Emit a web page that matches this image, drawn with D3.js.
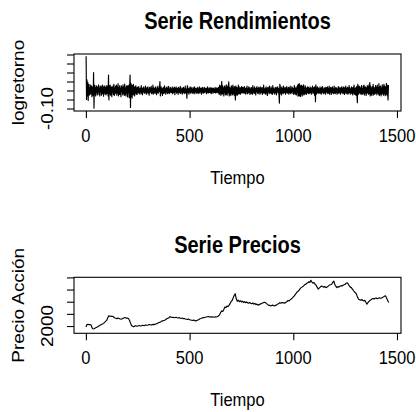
<!DOCTYPE html>
<html>
<head>
<meta charset="utf-8">
<script src="https://cdn.jsdelivr.net/npm/d3@7"></script>
<style>
  body { margin: 0; background: #fff; }
  svg { display: block; }
  text { font-family: "Liberation Sans", Arial, Helvetica, sans-serif; fill: #000; }
</style>
</head>
<body>
<svg id="chart" width="416" height="412"></svg>
<script>
// Daily log returns, in thousandths, sampled every 2 days starting at day 1
const retornoStart = 1;
const retornoStep = 2;
const logRetornoMil = [
  190,-50,60,-30,45,-55,20,35,-25,15,-20,30,-15,25,-35,10,20,-28,100,-98,
  30,-20,15,-30,28,-12,22,-25,18,-10,32,-22,14,-30,25,-8,20,-26,12,30,
  -18,24,-32,16,-14,26,-20,18,-24,10,28,-16,22,-30,86,-52,24,-18,30,-26,
  12,20,-34,18,-10,26,-22,34,-28,14,-18,24,-12,30,-26,20,-15,38,-30,16,
  -22,28,-20,12,-34,26,-8,18,-24,32,-16,20,-28,36,-22,14,-30,24,-18,28,
  -36,22,-14,30,-40,25,86,-94,40,-35,30,-42,28,-20,35,-25,18,-30,22,-15,
  26,-20,14,-22,18,
  18,-12,22,-15,9,-21,14,-8,27,-18,11,-24,15,-6,20,-14,8,-17,24,-11,
  12,-20,17,-9,21,-15,6,-26,18,-12,14,-8,23,-18,9,-14,30,-21,15,-9,
  11,-17,20,-12,8,-23,17,-11,24,-15,12,-6,18,50,-30,-9,21,-14,9,-27,
  14,-18,18,-15,26,-12,9,-21,15,-8,20,-17,12,-11,23,-18,6,-14,17,-9,
  15,-11,8,-18,21,-14,11,-9,17,-23,12,-6,20,-15,9,-12,14,-20,18,-8,
  11,-14,23,-17,6,-9,15,-21,12,-11,18,-14,8,-17,24,-12,9,-8,-43,27,
  17,-12,9,-20,14,-8,21,-15,11,-9,18,-14,6,-17,15,-11,20,-18,12,-6,
  14,-15,9,-11,17,-18,8,-12,21,-14,11,-8,15,-20,12,-9,18,-15,8,-14,
  17,-11,9,-6,14,-18,12,-9,20,-15,8,-12,15,-11,9,-14,18,-17,11,-8,
  12,-15,14,-9,8,-11,17,-14,9,-12,15,-8,11,-14,18,
  18,-22,30,-15,25,-28,12,50,-20,26,-18,14,-30,22,-12,28,-24,16,-20,32,
  -26,20,-14,24,48,-30,18,-22,12,-28,26,-16,20,-24,30,-18,14,-26,22,-12,
  -53,24,-20,18,-28,14,-22,30,-16,20,-18,12,-20,16,-14,22,-10,18,-15,10,
  17,-13,22,-15,10,-20,14,-8,25,-18,11,-14,21,-10,15,-22,8,-13,18,-17,
  13,-21,28,-11,8,-17,20,-14,10,-25,15,-7,22,-13,11,-18,17,-8,14,-20,
  21,-14,11,-10,18,-22,13,-15,30,-11,8,-17,14,-21,20,-13,10,-28,17,-8,
  15,-18,24,-13,7,-14,20,-17,11,-22,27,-10,14,-15,8,-20,18,-11,13,-24,
  17,-8,21,-14,11,-28,-70,35,22,-17,14,-25,20,-13,10,-18,25,-14,15,-11,
  13,-20,17,-10,22,-15,8,-13,18,-21,14,-11,24,-17,7,-14,20,-8,15,-18,
  11,-22,28,-13,17,-20,10,-25,21,-14,30,-32,35,-28,38,-30,25,-33,30,-21,
  28,-30,22,-17,32,-25,14,-20,27,-15,18,-22,11,-14,21,-13,17,-18,10,-15,
  20,-11,14,-21,15,-8,24,-17,13,-14,18,-28,22,-62,32,-20,13,-15,21,-10,
  14,-17,8,-13,20,-15,11,-21,17,-10,22,-14,7,-18,15,-11,13,-20,18,-8,
  15,-13,21,-17,10,-14,25,-20,13,-8,17,-22,14,-11,20,-15,8,-18,24,-13,
  11,-17,18,-10,14,-21,8,-13,22,-15,17,-11,13,-20,15,-14,21,-8,10,-18,
  20,-13,14,-22,17,-10,25,-17,11,-14,18,-21,13,-15,28,-11,15,-20,8,-14,
  21,-17,13,-25,18,-14,30,-20,11,-22,15,-28,22,-30,-68,35,17,-21,25,-14,
  20,-15,13,-22,28,-17,11,-20,24,-13,30,-25,17,-14,21,-28,14,-18,27,-11,
  22,-20,32,-17,44,-30,25,-22,14,-28,20,-15,35,-25,17,-21,13,-18,28,-14,
  18,-24,30,-13,15,-20,38,-28,21,-17,25,-30,14,-22,32,-15,20,-26,35,-18,
  24,-29,17,-21,40,-25,30,-17,-53,30
];

// Share price, sampled every 5 days starting at day 0
const precioStart = 0;
const precioStep = 5;
const precio = [
  1960,2060,2070,2050,2060,2040,1920,1880,1890,1920,1940,1960,1990,2010,2040,2060,2080,2110,2150,2190,
  2230,2330,2420,2400,2410,2390,2400,2360,2330,2320,2300,2330,2310,2290,2280,2300,2320,2340,2350,2320,
  2330,2310,2240,2120,2020,1990,1970,2000,2010,1990,2000,2020,2010,2000,2020,2030,2010,2030,2040,2030,
  2040,2060,2050,2040,2060,2070,2060,2080,2090,2110,2140,2150,2170,2200,2210,2230,2240,2270,2300,2320,
  2340,2380,2370,2350,2360,2340,2350,2360,2340,2330,2350,2320,2310,2330,2300,2310,2290,2280,2270,2290,
  2260,2250,2240,2230,2250,2220,2210,2230,2250,2270,2300,2310,2330,2350,2340,2360,2370,2380,2390,2370,
  2380,2360,2380,2370,2360,2380,2370,2390,2420,2470,2560,2620,2600,2680,2780,2760,2820,2800,2850,2920,
  3010,3050,3150,3260,3330,3120,3020,3060,3000,3040,2990,3020,2970,3000,2960,2990,2950,2940,2970,2930,
  2920,2950,2900,2930,2880,2900,2860,2880,2900,2920,2940,2960,2980,2970,2930,2890,2860,2850,2830,2840,
  2860,2840,2830,2850,2870,2900,2930,2960,2940,2970,2950,2960,2940,2980,3010,3050,3030,3080,3110,3150,
  3200,3240,3300,3360,3410,3440,3500,3560,3590,3620,3650,3700,3720,3760,3780,3820,3790,3880,3810,3760,
  3790,3720,3680,3600,3520,3560,3600,3640,3630,3600,3620,3600,3580,3620,3650,3690,3700,3720,3800,3850,
  3720,3640,3580,3620,3600,3640,3660,3650,3680,3700,3720,3760,3780,3720,3650,3600,3580,3520,3460,3400,
  3370,3300,3180,3100,3080,3060,3090,3050,3030,3060,2980,2900,2960,3010,3060,3080,3120,3130,3110,3140,
  3150,3120,3140,3160,3140,3150,3170,3200,3230,3240,3150,3050,2970
];

const xTicks = [0, 500, 1000, 1500];
const retornoTicks = [-0.10, -0.05, 0, 0.05, 0.10, 0.15, 0.20];
const retornoTickLabels = ["-0.10", "", "", "", "", "", ""];
const precioTicks = [2000, 2500, 3000, 3500, 4000];
const precioTickLabels = ["2000", "", "", "", ""];

const svg = d3.select("#chart");
const FONT = 16.5;
const STRETCH = 1.15;   // glyphs are drawn a little taller than wide

function hText(g, x, y, str, size, bold) {
  return g.append("text")
    .attr("transform", `translate(${x},${y}) scale(1,${STRETCH})`)
    .attr("text-anchor", "middle")
    .attr("font-size", size)
    .attr("font-weight", bold ? "bold" : null)
    .text(str);
}
function vText(g, x, y, str, size) {
  return g.append("text")
    .attr("transform", `translate(${x},${y}) rotate(-90) scale(${STRETCH},1)`)
    .attr("text-anchor", "middle")
    .attr("font-size", size)
    .text(str);
}

const x = d3.scaleLinear().domain([-57.4, 1519.4]).range([74, 401]);

const panels = [
  {
    title: "Serie Rendimientos", ylab: "logretorno",
    yDomain: [-0.1139, 0.2028], box: [54, 111],
    data: logRetornoMil.map((v, i) => ({ t: retornoStart + i * retornoStep, v: v / 1000 })),
    ticks: retornoTicks, tickLabels: retornoTickLabels
  },
  {
    title: "Serie Precios", ylab: "Precio Acción",
    yDomain: [1701, 4004], box: [277.3, 333.3],
    data: precio.map((v, i) => ({ t: precioStart + i * precioStep, v })),
    ticks: precioTicks, tickLabels: precioTickLabels
  }
];

panels.forEach(p => {
  const [top, bottom] = p.box;
  const y = d3.scaleLinear().domain(p.yDomain).range([bottom, top]);
  const g = svg.append("g");
  const cx = (x.range()[0] + x.range()[1]) / 2;

  // series line
  g.append("path")
    .datum(p.data)
    .attr("fill", "none")
    .attr("stroke", "#000")
    .attr("stroke-width", 1.15)
    .attr("stroke-linejoin", "round")
    .attr("d", d3.line().x(d => x(d.t)).y(d => y(d.v)));

  // frame
  g.append("rect")
    .attr("x", x.range()[0]).attr("y", top)
    .attr("width", x.range()[1] - x.range()[0]).attr("height", bottom - top)
    .attr("fill", "none").attr("stroke", "#000").attr("stroke-width", 1.1);

  // x axis ticks and labels
  const xa = g.append("g")
    .attr("transform", `translate(0,${bottom})`)
    .call(d3.axisBottom(x).tickValues(xTicks).tickSize(7).tickSizeOuter(0).tickFormat(""));
  xa.select(".domain").remove();
  xa.selectAll("line").attr("stroke", "#000").attr("stroke-width", 1.1);
  xTicks.forEach(t => hText(g, x(t), bottom + 30.5, d3.format("d")(t), FONT));

  // y axis ticks, labels drawn rotated
  const ya = g.append("g")
    .attr("transform", `translate(${x.range()[0]},0)`)
    .call(d3.axisLeft(y).tickValues(p.ticks).tickSize(7).tickSizeOuter(0).tickFormat(""));
  ya.select(".domain").remove();
  ya.selectAll("line").attr("stroke", "#000").attr("stroke-width", 1.1);
  p.ticks.forEach((t, i) => {
    if (p.tickLabels[i]) vText(g, 53, y(t), p.tickLabels[i], FONT);
  });

  // titles and axis labels
  hText(g, cx, top - 24.7, p.title, 20, true);
  hText(g, cx, bottom + 73, "Tiempo", FONT);
  vText(g, 23.5, (top + bottom) / 2, p.ylab, FONT);
});
</script>
</body>
</html>
